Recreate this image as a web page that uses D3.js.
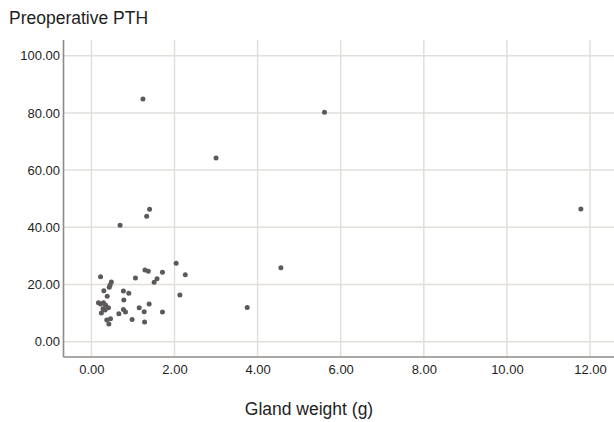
<!DOCTYPE html>
<html>
<head>
<meta charset="utf-8">
<script src="https://cdn.jsdelivr.net/npm/d3@7"></script>
<style>
	body { margin: 0; background: #fff; }
	svg { display: block; font-family: "Liberation Sans", Arial, sans-serif; }
</style>
</head>
<body>
<svg id="chart"></svg>
<script>
// gland weight (g) vs preoperative PTH
const glandWeight = [1.24, 5.61, 3.00, 1.40, 1.33, 0.69, 11.78, 4.56, 3.75,
	2.04, 2.26, 2.13, 1.29, 1.37, 1.71, 1.58, 1.51, 1.06, 0.22,
	0.48, 0.45, 0.43, 0.30, 0.77, 0.90, 0.38, 0.78, 0.17, 0.22,
	0.29, 0.34, 0.41, 0.33, 1.39, 1.15, 1.27, 0.77, 0.82, 0.66,
	0.24, 0.28, 1.71, 0.98, 1.28, 0.46, 0.37, 0.42]
const preopPTH = [84.9, 80.2, 64.2, 46.3, 43.9, 40.7, 46.4, 25.9, 12.0,
	27.4, 23.4, 16.3, 25.1, 24.6, 24.3, 22.0, 20.8, 22.3, 22.7,
	20.9, 19.8, 19.0, 17.8, 17.7, 16.9, 15.9, 14.6, 13.6, 13.2,
	13.6, 12.8, 11.9, 11.1, 13.2, 11.9, 10.5, 11.3, 10.4, 9.8,
	10.0, 11.5, 10.4, 7.8, 6.9, 8.0, 7.6, 6.2]
const xTicks = [0, 2, 4, 6, 8, 10, 12]
const yTicks = [0, 20, 40, 60, 80, 100]

var width = 614
var height = 422
var plot = {left: 63.5, right: 614, top: 40, bottom: 357}

var x = d3.scaleLinear().domain([0, 12]).range([91.4, 590])
var y = d3.scaleLinear().domain([0, 100]).range([341.7, 55.7])

var points = glandWeight.map((g, i) => ({x: g, y: preopPTH[i]}))

let svg = d3.select("#chart")
	.attr("width", width)
	.attr("height", height)
	.attr("viewBox", [0, 0, width, height])

// grid
svg.append("g")
	.selectAll("line")
	.data(yTicks)
	.join("line")
	.attr("x1", plot.left).attr("x2", plot.right)
	.attr("y1", d => y(d)).attr("y2", d => y(d))
	.attr("stroke", "#e2dfda")
	.attr("stroke-width", 1.5)

svg.append("g")
	.selectAll("line")
	.data(xTicks)
	.join("line")
	.attr("x1", d => x(d)).attr("x2", d => x(d))
	.attr("y1", plot.top).attr("y2", plot.bottom)
	.attr("stroke", "#e2dfda")
	.attr("stroke-width", 1.5)

// axes (labels only, lines drawn below)
var xAxis = g => g
	.attr("transform", `translate(0,${plot.bottom})`)
	.call(d3.axisBottom(x).tickValues(xTicks).tickFormat(d3.format(".2f")).tickSize(0).tickPadding(8))
	.call(g => g.select(".domain").remove())

var yAxis = g => g
	.attr("transform", `translate(${plot.left},0)`)
	.call(d3.axisLeft(y).tickValues(yTicks).tickFormat(d3.format(".2f")).tickSize(0).tickPadding(3.5))
	.call(g => g.select(".domain").remove())

svg.append("g").call(xAxis)
	.selectAll("text")
	.attr("font-size", 13)
	.attr("font-family", "Liberation Sans, Arial, sans-serif")
	.attr("fill", "#1e1e1e")

svg.append("g").call(yAxis)
	.selectAll("text")
	.attr("font-size", 13)
	.attr("font-family", "Liberation Sans, Arial, sans-serif")
	.attr("fill", "#1e1e1e")

svg.append("line")
	.attr("x1", plot.left).attr("x2", plot.left)
	.attr("y1", plot.top).attr("y2", plot.bottom)
	.attr("stroke", "#8e8a86").attr("stroke-width", 1.6)

svg.append("line")
	.attr("x1", plot.left).attr("x2", plot.right)
	.attr("y1", plot.bottom).attr("y2", plot.bottom)
	.attr("stroke", "#8e8a86").attr("stroke-width", 1.6)

// points
svg.append("g")
	.selectAll("circle")
	.data(points)
	.join("circle")
	.attr("cx", d => x(d.x))
	.attr("cy", d => y(d.y))
	.attr("r", 2.5)
	.attr("fill", "#5d5959")

// titles
svg.append("text")
	.attr("x", 9)
	.attr("y", 24)
	.attr("font-size", 17.5)
	.attr("fill", "#1e1e1e")
	.text("Preoperative PTH")

svg.append("text")
	.attr("x", 309)
	.attr("y", 415)
	.attr("text-anchor", "middle")
	.attr("font-size", 17.5)
	.attr("fill", "#1e1e1e")
	.text("Gland weight (g)")
</script>
</body>
</html>
